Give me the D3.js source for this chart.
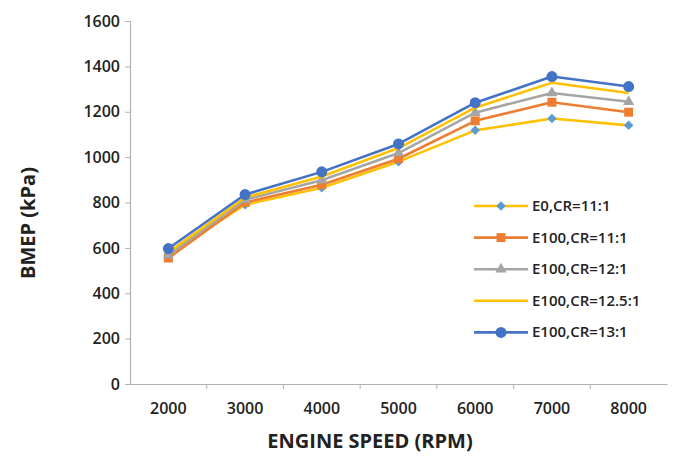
<!DOCTYPE html>
<html>
<head>
<meta charset="utf-8">
<script src="https://cdn.jsdelivr.net/npm/d3@7"></script>
<style>
  html, body { margin: 0; padding: 0; background: #fff; }
  text { font-family: "Open Sans", "Liberation Sans", sans-serif; fill: #222; }
</style>
</head>
<body>
<div id="chart"></div>
<script>
const speeds = ['2000', '3000', '4000', '5000', '6000', '7000', '8000'];
const yTicks = [0, 200, 400, 600, 800, 1000, 1200, 1400, 1600];

const seriesNames = ['E0,CR=11:1', 'E100,CR=11:1', 'E100,CR=12:1', 'E100,CR=12.5:1', 'E100,CR=13:1'];
const e0Cr11 = [572, 790, 865, 980, 1118, 1170, 1140];
const e100Cr11 = [555, 800, 878, 993, 1160, 1242, 1198];
const e100Cr12 = [568, 812, 898, 1018, 1196, 1283, 1244];
const e100Cr125 = [580, 822, 915, 1040, 1218, 1328, 1283];
const e100Cr13 = [597, 835, 935, 1058, 1240, 1355, 1311];

const seriesValues = [e0Cr11, e100Cr11, e100Cr12, e100Cr125, e100Cr13];
const lineColors = ['#ffc000', '#ed7d31', '#a5a5a5', '#ffc000', '#4472c4'];
const markerColors = ['#5b9bd5', '#ed7d31', '#a5a5a5', null, '#4472c4'];
const markerShapes = [d3.symbolSquare, d3.symbolSquare, d3.symbolTriangle, null, d3.symbolCircle];
const markerSizes = [45, 80, 55, 0, 95];
const markerRot = [45, 0, 0, 0, 0];

const W = 682, H = 456;
const plot = { left: 130, right: 667, top: 21, bottom: 384 };

const svg = d3.select('#chart').append('svg')
  .attr('width', W).attr('height', H);

const x = d3.scaleBand().domain(speeds).range([plot.left, plot.right]);
const y = d3.scaleLinear().domain([0, 1600]).range([plot.bottom, plot.top]);

// y axis
const yAxis = d3.axisLeft(y).tickValues(yTicks).tickFormat(d3.format('d')).tickSize(5).tickPadding(5);
const gy = svg.append('g').attr('transform', 'translate(' + plot.left + ',0)').call(yAxis);
gy.select('.domain').attr('stroke', '#b9aeae').attr('stroke-width', 1.2);
gy.selectAll('.tick line').attr('stroke', '#b9aeae');
gy.selectAll('text').style('font-size', '16px').style('font-weight', 600).attr('fill', '#222');

// x axis: labels centred in bands, ticks between bands
const xAxis = d3.axisBottom(x).tickSize(0).tickPadding(19);
const gx = svg.append('g').attr('transform', 'translate(0,' + plot.bottom + ')').call(xAxis);
gx.select('.domain').attr('stroke', '#b9aeae').attr('stroke-width', 1.2);
gx.selectAll('text').style('font-size', '16px').style('font-weight', 600).attr('fill', '#222');
gx.selectAll('.bound').data(speeds.slice(1)).enter().append('line')
  .attr('x1', d => x(d)).attr('x2', d => x(d))
  .attr('y1', 0).attr('y2', 5)
  .attr('stroke', '#b9aeae');

// axis titles
svg.append('text')
  .attr('transform', 'translate(35,223) rotate(-90)')
  .attr('text-anchor', 'middle')
  .style('font-size', '20px').style('font-weight', 'bold')
  .text('BMEP (kPa)');
svg.append('text')
  .attr('x', 370).attr('y', 448)
  .attr('text-anchor', 'middle')
  .style('font-size', '20px').style('font-weight', 'bold')
  .text('ENGINE SPEED (RPM)');

// series
const cx = d => x(d) + x.bandwidth() / 2;
const line = d3.line().x(d => cx(d.k)).y(d => y(d.v));

seriesValues.forEach((vals, i) => {
  const pts = vals.map((v, j) => ({ k: speeds[j], v: v }));
  svg.append('path').datum(pts)
    .attr('d', line)
    .attr('fill', 'none')
    .attr('stroke', lineColors[i])
    .attr('stroke-width', 2.6)
    .attr('stroke-linejoin', 'round');
  if (markerShapes[i]) {
    svg.selectAll('.m' + i).data(pts).enter().append('path')
      .attr('class', 'm' + i)
      .attr('transform', d => 'translate(' + cx(d.k) + ',' + y(d.v) + ') rotate(' + markerRot[i] + ')')
      .attr('d', d3.symbol().type(markerShapes[i]).size(markerSizes[i]))
      .attr('fill', markerColors[i]);
  }
});

// legend
const legend = svg.append('g').attr('transform', 'translate(474,206)');
seriesNames.forEach((name, i) => {
  const g = legend.append('g').attr('transform', 'translate(0,' + (i * 31.6) + ')');
  g.append('line').attr('x1', 0).attr('x2', 54).attr('y1', 0).attr('y2', 0)
    .attr('stroke', lineColors[i]).attr('stroke-width', 2.6);
  if (markerShapes[i]) {
    g.append('path').attr('transform', 'translate(27,0) rotate(' + markerRot[i] + ')')
      .attr('d', d3.symbol().type(markerShapes[i]).size(markerSizes[i]))
      .attr('fill', markerColors[i]);
  }
  g.append('text').attr('x', 58).attr('y', 5)
    .style('font-size', '15px').style('font-weight', 600)
    .text(name);
});
</script>
</body>
</html>
